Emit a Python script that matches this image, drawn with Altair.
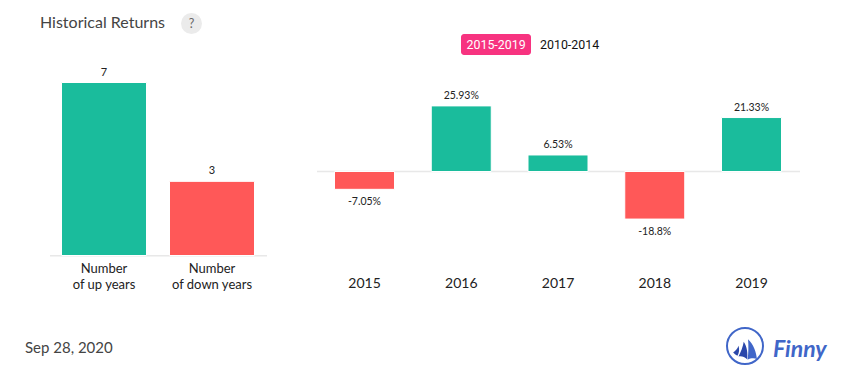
import altair as alt
import pandas as pd

counts_labels = ["Number\nof up years", "Number\nof down years"]
counts_values = [7, 3]
years = ["2015", "2016", "2017", "2018", "2019"]
returns = [-7.05, 25.93, 6.53, -18.8, 21.33]
return_labels = ["-7.05%", "25.93%", "6.53%", "-18.8%", "21.33%"]

GREEN, RED = "#1abc9c", "#ff5858"
BLUE = "#4066c8"
DARK = "#2a47aa"
LATO = "Lato"
W, H = 839, 366


def px(x):
    return x - 8


def note(text, x, y, size, color="#444444", font=LATO, align="left", **kw):
    return alt.Chart(pd.DataFrame({"t": [text]})).mark_text(
        align=align, baseline="middle", fontSize=size, font=font, color=color, **kw
    ).encode(x=alt.value(px(x)), y=alt.value(px(y)), text="t:N")


# Left panel
left_df = pd.DataFrame({"k": counts_labels, "v": counts_values})
lx = alt.X("k:N", sort=None, axis=None,
           scale=alt.Scale(domain=counts_labels, range=[px(61.5), px(254.5)],
                           paddingInner=23 / 108, paddingOuter=0))
ly = alt.Y("v:Q", axis=None,
           scale=alt.Scale(domain=[0, 7], range=[px(255.5), px(82.5)], nice=False))
left_color = alt.Color("k:N", legend=None,
                       scale=alt.Scale(domain=counts_labels, range=[GREEN, RED]))
left = alt.layer(
    alt.Chart(left_df).mark_bar(stroke="white", strokeWidth=1).encode(x=lx, y=ly, color=left_color),
    alt.Chart(left_df).mark_text(dy=-10, fontSize=11, font=LATO, color="#222222").encode(
        x=lx, y=ly, text="v:Q"),
    alt.Chart(left_df).mark_text(lineBreak="\n", lineHeight=16, fontSize=13, font=LATO,
                                 color="#222222", baseline="middle").encode(
        x=lx, y=alt.value(px(269)), text="k:N"),
)

# Right panel
right_df = pd.DataFrame({"k": years, "v": returns, "l": return_labels})
rx = alt.X("k:N", sort=None, axis=None,
           scale=alt.Scale(domain=years, range=[px(334.5), px(781.5)],
                           paddingInner=36.75 / 96.75, paddingOuter=0))
ry = alt.Y("v:Q", axis=None,
           scale=alt.Scale(domain=[-20, 30], range=[px(222.1), px(95.6)], nice=False))
sign = alt.condition(alt.datum.v >= 0, alt.value(GREEN), alt.value(RED))
right = alt.layer(
    alt.Chart(right_df).mark_bar(stroke="white", strokeWidth=1).encode(x=rx, y=ry, color=sign),
    alt.Chart(right_df[right_df.v >= 0]).mark_text(dy=-9.5, fontSize=10.5, font=LATO, color="#222222").encode(
        x=rx, y=ry, text="l:N"),
    alt.Chart(right_df[right_df.v < 0]).mark_text(dy=13, fontSize=10.5, font=LATO, color="#222222").encode(
        x=rx, y=ry, text="l:N"),
    alt.Chart(right_df).mark_text(fontSize=14, font=LATO, color="#222222", baseline="middle").encode(
        x=rx, y=alt.value(px(284)), text="k:N"),
)

baselines = pd.DataFrame({"a": [0]})
rule_left = alt.Chart(baselines).mark_rule(color="#e8e8e8", strokeWidth=1.5).encode(
    x=alt.value(px(50)), x2=alt.value(px(267)), y=alt.value(px(255.7)))
rule_right = alt.Chart(baselines).mark_rule(color="#e8e8e8", strokeWidth=1.5).encode(
    x=alt.value(px(317)), x2=alt.value(px(800)), y=alt.value(px(171.6)))

# Header, toggle, footer
one = pd.DataFrame({"a": [0]})
help_dot = alt.Chart(one).mark_point(filled=True, shape="circle", size=441, color="#ebebeb", opacity=1).encode(
    x=alt.value(px(191.5)), y=alt.value(px(23.5)))
pill = alt.Chart(one).mark_rect(color="#f73380", cornerRadius=3).encode(
    x=alt.value(px(461)), x2=alt.value(px(531)), y=alt.value(px(34)), y2=alt.value(px(55)))

# Finny logo
ring = alt.Chart(one).mark_point(shape="circle", size=1296, color=BLUE, strokeWidth=2, filled=False, opacity=1).encode(
    x=alt.value(px(745)), y=alt.value(px(346)))
BIG_SAIL = "M0.17,-0.37 C0.5,-0.05 0.62,0.35 0.66,0.72 C0.5,0.66 0.3,0.68 0.14,0.76 C0.2,0.4 0.2,0 0.17,-0.37 Z"
SMALL_SAILS = ("M-0.07,-0.24 C0.12,0.05 0.16,0.4 0.12,0.74 C-0.02,0.6 -0.18,0.55 -0.36,0.58 C-0.22,0.3 -0.12,0.05 -0.07,-0.24 Z "
               "M-0.36,-0.02 C-0.3,0.18 -0.32,0.38 -0.42,0.54 C-0.52,0.5 -0.6,0.42 -0.66,0.36 C-0.54,0.28 -0.42,0.15 -0.36,-0.02 Z")
sail_big = alt.Chart(one).mark_point(shape=BIG_SAIL, size=1296, filled=True, color=BLUE, opacity=1, strokeWidth=0).encode(
    x=alt.value(px(745)), y=alt.value(px(346)))
sail_small = alt.Chart(one).mark_point(shape=SMALL_SAILS, size=1296, filled=True, color=DARK, opacity=1, strokeWidth=0).encode(
    x=alt.value(px(745)), y=alt.value(px(346)))

chart = alt.layer(
    rule_left, rule_right, left, right, help_dot, pill, ring, sail_small, sail_big,
    note("Historical Returns", 40, 23, 16),
    note("?", 191.5, 24, 12.5, color="#666666", align="center"),
    note("2015-2019", 466.5, 45, 12.4, color="#ffffff", font="Roboto"),
    note("2010-2014", 540, 45, 12.4, color="#111111", font="Roboto"),
    note("Sep 28, 2020", 25, 348, 15),
    note("Finny", 773, 350, 23, color=BLUE, fontWeight="bold", fontStyle="italic", font="Lato"),
).resolve_scale(x="independent", y="independent", color="independent").properties(
    width=W, height=H, padding=0, autosize=alt.AutoSizeParams(type="none")
).configure_view(stroke=None)

chart.save("out.html", embed_options={"renderer": "svg", "actions": False})
